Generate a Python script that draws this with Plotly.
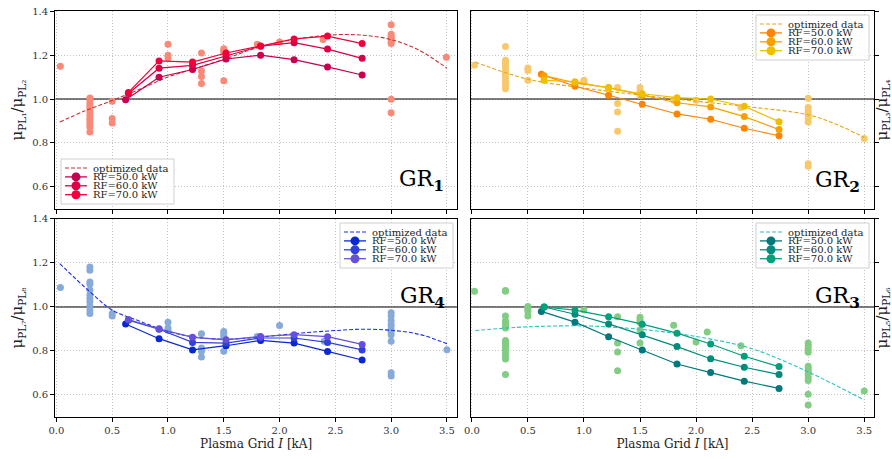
import plotly.graph_objects as go

# ---------------- data ----------------
rf_labels = ["RF=50.0 kW", "RF=60.0 kW", "RF=70.0 kW"]
fit_label = "optimized data"
x_rf50 = [0.62, 0.92, 1.22, 1.52, 1.83, 2.13, 2.43, 2.74]
x_rf6070 = [0.645, 0.92, 1.22, 1.52, 1.83, 2.13, 2.43, 2.74]
ref_level = 1.0

# GR1 (top-left)
gr1_rf50 = [0.997, 1.099, 1.134, 1.182, 1.199, 1.179, 1.146, 1.109]
gr1_rf60 = [1.025, 1.140, 1.153, 1.196, 1.240, 1.256, 1.227, 1.185]
gr1_rf70 = [1.030, 1.173, 1.168, 1.209, 1.241, 1.273, 1.286, 1.252]
gr1_sx = [0.035] + [0.3]*12 + [0.5]*3 + [1.0]*3 + [1.3]*4 + [1.5]*4 + [1.8, 2.0, 2.39] + [3.0]*9 + [3.495]
gr1_sy = [1.149,
          1.005, 0.994, 0.979, 0.967, 0.956, 0.941, 0.926, 0.911, 0.900, 0.888, 0.873, 0.850,
          0.990, 0.911, 0.891,
          1.249, 1.199, 1.188,
          1.209, 1.127, 1.102, 1.070,
          1.229, 1.221, 1.214, 1.083,
          1.249, 1.259, 1.270,
          1.338, 1.294, 1.285, 1.277, 1.270, 1.259, 1.252, 0.999, 0.937,
          1.190]
gr1_fx = [0.03, 0.25, 0.5, 0.75, 1.0, 1.25, 1.5, 1.75, 2.0, 2.25, 2.5, 2.75, 3.0, 3.25, 3.5]
gr1_fy = [0.895, 0.945, 0.993, 1.045, 1.100, 1.140, 1.180, 1.225, 1.258, 1.280, 1.292, 1.290, 1.270, 1.222, 1.140]

# GR2 (top-right)
gr2_rf50 = [1.112, 1.058, 1.017, 0.976, 0.932, 0.908, 0.867, 0.833]
gr2_rf60 = [1.106, 1.073, 1.052, 1.017, 0.983, 0.964, 0.920, 0.861]
gr2_rf70 = [1.085, 1.079, 1.050, 1.024, 1.006, 1.000, 0.967, 0.897]
gr2_sx = [0.024] + [0.3]*11 + [0.5]*3 + [1.0]*2 + [1.3]*4 + [1.5]*3 + [1.8, 2.0, 2.4] + [3.0]*9 + [3.5]
gr2_sy = [1.153,
          1.239, 1.176, 1.164, 1.150, 1.138, 1.123, 1.112, 1.097, 1.077, 1.062, 1.047,
          1.141, 1.130, 1.085,
          1.085, 1.077,
          1.052, 0.979, 0.941, 0.853,
          1.052, 1.036, 1.017,
          0.994, 0.994, 0.961,
          1.003, 0.961, 0.948, 0.936, 0.926, 0.911, 0.895, 0.706, 0.694,
          0.820]
gr2_fx = [0.03, 0.5, 1.0, 1.5, 2.0, 2.5, 3.0, 3.25, 3.5]
gr2_fy = [1.168, 1.090, 1.050, 1.018, 0.990, 0.963, 0.928, 0.885, 0.825]

# GR4 (bottom-left)
gr4_rf50 = [0.923, 0.856, 0.805, 0.824, 0.848, 0.836, 0.798, 0.759]
gr4_rf60 = [0.940, 0.899, 0.839, 0.836, 0.859, 0.859, 0.839, 0.805]
gr4_rf70 = [0.943, 0.901, 0.862, 0.851, 0.866, 0.874, 0.865, 0.830]
gr4_sx = [0.036] + [0.3]*11 + [0.5]*2 + [1.0]*3 + [1.3]*4 + [1.5]*4 + [1.8, 2.0, 2.4] + [3.0]*10 + [3.5]
gr4_sy = [1.089,
          1.182, 1.167, 1.114, 1.104, 1.077, 1.054, 1.039, 1.024, 1.005, 0.986, 0.971,
          0.971, 0.959,
          0.931, 0.904, 0.893,
          0.878, 0.814, 0.799, 0.773,
          0.889, 0.878, 0.866, 0.799,
          0.866, 0.916, 0.844,
          0.974, 0.959, 0.937, 0.919, 0.904, 0.889, 0.874, 0.844, 0.701, 0.686,
          0.806]
gr4_fx = [0.03, 0.3, 0.5, 0.75, 1.0, 1.25, 1.5, 1.75, 2.0, 2.25, 2.5, 2.75, 3.0, 3.25, 3.5]
gr4_fy = [1.197, 1.069, 0.986, 0.935, 0.889, 0.863, 0.854, 0.860, 0.872, 0.884, 0.893, 0.899, 0.894, 0.876, 0.833]

# GR3 (bottom-right)
gr3_rf50 = [0.980, 0.931, 0.865, 0.805, 0.741, 0.702, 0.663, 0.630]
gr3_rf60 = [1.000, 0.967, 0.923, 0.874, 0.820, 0.765, 0.726, 0.693]
gr3_rf70 = [1.000, 0.986, 0.956, 0.922, 0.881, 0.832, 0.776, 0.729]
gr3_sx = [0.024] + [0.3]*16 + [0.5]*4 + [1.0] + [1.3]*4 + [1.5]*5 + [1.8, 2.0, 2.1, 2.4] + [3.0]*12 + [3.5]
gr3_sy = [1.072,
          1.075, 1.072, 0.959, 0.937, 0.926, 0.914, 0.904, 0.848, 0.839, 0.829, 0.818, 0.806, 0.794, 0.779, 0.764, 0.693,
          1.002, 0.990, 0.979, 0.959,
          0.986,
          0.956, 0.836, 0.795, 0.710,
          0.953, 0.941, 0.929, 0.896, 0.836,
          0.917, 0.841, 0.886, 0.824,
          0.836, 0.824, 0.809, 0.794, 0.731, 0.719, 0.708, 0.693, 0.678, 0.666, 0.603, 0.555,
          0.618]
gr3_fx = [0.03, 0.3, 0.5, 1.0, 1.5, 2.0, 2.5, 3.0, 3.5]
gr3_fy = [0.893, 0.904, 0.910, 0.914, 0.899, 0.866, 0.810, 0.705, 0.577]

x_ticks = [0.0, 0.5, 1.0, 1.5, 2.0, 2.5, 3.0, 3.5]
y_ticks = [0.6, 0.8, 1.0, 1.2, 1.4]

FONT = "DejaVu Serif"
W, H = 892, 459
xr = [-0.01, 3.59]
yr = [0.5, 1.4]

panels = [
    dict(name="GR<sub><b>1</b></sub>", ax=("x", "y"),
         rf=[gr1_rf50, gr1_rf60, gr1_rf70], sx=gr1_sx, sy=gr1_sy, fx=gr1_fx, fy=gr1_fy,
         rfc=["#c8004e", "#dc0046", "#f0003a"], sc="#fa8a78", fc="#c83232",
         lab=(3.49, 0.63), leg=(61, 159)),
    dict(name="GR<sub><b>2</b></sub>", ax=("x2", "y2"),
         rf=[gr2_rf50, gr2_rf60, gr2_rf70], sx=gr2_sx, sy=gr2_sy, fx=gr2_fx, fy=gr2_fy,
         rfc=["#ff8400", "#f8a000", "#f0be00"], sc="#f7c86c", fc="#e0a820",
         lab=(3.48, 0.623), leg=(756, 15)),
    dict(name="GR<sub><b>4</b></sub>", ax=("x3", "y3"),
         rf=[gr4_rf50, gr4_rf60, gr4_rf70], sx=gr4_sx, sy=gr4_sy, fx=gr4_fx, fy=gr4_fy,
         rfc=["#0a28d2", "#3040dc", "#6450dc"], sc="#88aad8", fc="#1a2cf0",
         lab=(3.5, 1.045), leg=(340, 223)),
    dict(name="GR<sub><b>3</b></sub>", ax=("x4", "y4"),
         rf=[gr3_rf50, gr3_rf60, gr3_rf70], sx=gr3_sx, sy=gr3_sy, fx=gr3_fx, fy=gr3_fy,
         rfc=["#00787c", "#008c7c", "#00a07a"], sc="#82cc84", fc="#30c0c0",
         lab=(3.48, 1.045), leg=(756, 223)),
]

FIT_DASH = "4px,2px"

fig = go.Figure()


def px2paper(px, py):
    return px / W, 1 - py / H


def add_legend(fig, left, top, fit_color, rf_colors):
    """Matplotlib-style compact legend box (layout decoration)."""
    bw, bh = 113, 45
    x0, y1 = px2paper(left, top)
    x1, y0 = px2paper(left + bw, top + bh)
    fig.add_shape(type="rect", xref="paper", yref="paper", x0=x0, x1=x1, y0=y0, y1=y1,
                  fillcolor="rgba(255,255,255,0.85)", line=dict(color="#d0d0d0", width=1),
                  layer="above")
    labels = [fit_label] + rf_labels
    for i, lab in enumerate(labels):
        ry = top + 9 + 8.9 * i
        gx0, gy = px2paper(left + 4, ry)
        gx1, _ = px2paper(left + 26, ry)
        if i == 0:
            fig.add_shape(type="line", xref="paper", yref="paper", x0=gx0, x1=gx1, y0=gy, y1=gy,
                          line=dict(color=fit_color, width=1.2, dash=FIT_DASH), layer="above")
        else:
            col = rf_colors[i - 1]
            fig.add_shape(type="line", xref="paper", yref="paper", x0=gx0, x1=gx1, y0=gy, y1=gy,
                          line=dict(color=col, width=1.3), layer="above")
            cx0, cy0 = px2paper(left + 10.5, ry + 4.5)
            cx1, cy1 = px2paper(left + 19.5, ry - 4.5)
            fig.add_shape(type="circle", xref="paper", yref="paper", x0=cx0, x1=cx1, y0=cy0, y1=cy1,
                          fillcolor=col, line=dict(color=col, width=0), layer="above")
        tx, ty = px2paper(left + 31, ry)
        fig.add_annotation(x=tx, y=ty, xref="paper", yref="paper", text=lab, showarrow=False,
                           xanchor="left", yanchor="middle",
                           font=dict(family=FONT, size=10, color="#222"),
                           borderpad=0)


for p in panels:
    xa, ya = p["ax"]
    # horizontal reference line at 1.0 (beneath the data)
    fig.add_trace(go.Scatter(x=xr, y=[ref_level, ref_level], mode="lines", xaxis=xa, yaxis=ya,
                             line=dict(color="black", width=1.2), showlegend=False,
                             hoverinfo="skip"))
    fig.add_trace(go.Scatter(x=p["sx"], y=p["sy"], mode="markers", xaxis=xa, yaxis=ya,
                             marker=dict(color=p["sc"], size=7), showlegend=False))
    fig.add_trace(go.Scatter(x=p["fx"], y=p["fy"], mode="lines", xaxis=xa, yaxis=ya,
                             line=dict(color=p["fc"], width=1.1, dash=FIT_DASH, shape="spline"),
                             name=fit_label, showlegend=False))
    for i, (vals, col) in enumerate(zip(p["rf"], p["rfc"])):
        xs = x_rf50 if i == 0 else x_rf6070
        fig.add_trace(go.Scatter(x=xs, y=vals, mode="lines+markers", xaxis=xa, yaxis=ya,
                                 line=dict(color=col, width=1.2),
                                 marker=dict(color=col, size=7),
                                 name=rf_labels[i], showlegend=False))
    fig.add_annotation(x=p["lab"][0], y=p["lab"][1], xref=xa, yref=ya, text=p["name"],
                       showarrow=False, xanchor="right", yanchor="middle",
                       font=dict(family=FONT, size=22, color="black"))
    add_legend(fig, p["leg"][0], p["leg"][1], p["fc"], p["rfc"])

xdom_l = [0.062, 0.5123]
xdom_r = [0.5277, 0.9802]
ydom_t = [0.5447, 0.976]
ydom_b = [0.0915, 0.5229]

axis_common = dict(showline=True, linecolor="black", linewidth=1.3, mirror=True,
                   ticks="outside", ticklen=4, tickcolor="black", tickwidth=1,
                   showgrid=True, gridcolor="#c4c4c4", griddash="1px,2px", gridwidth=1,
                   zeroline=False, automargin=False,
                   tickfont=dict(family=FONT, size=10, color="#333"))

ytitle_font = dict(family=FONT, size=15, color="#222")
xtitle_font = dict(family=FONT, size=12, color="#222")

fig.update_layout(
    xaxis=dict(domain=xdom_l, anchor="y", range=xr, tickvals=x_ticks, showticklabels=False, **axis_common),
    yaxis=dict(domain=ydom_t, anchor="x", range=yr, tickvals=y_ticks, tickformat=".1f",
               title=dict(text="μ<sub>PL₁</sub>/μ<sub>PL₂</sub>", standoff=5, font=ytitle_font),
               **axis_common),
    xaxis2=dict(domain=xdom_r, anchor="y2", range=xr, tickvals=x_ticks, showticklabels=False, **axis_common),
    yaxis2=dict(domain=ydom_t, anchor="x2", range=yr, tickvals=y_ticks, side="right", showticklabels=False,
                title=dict(text="μ<sub>PL₃</sub>/μ<sub>PL₄</sub>", standoff=2, font=ytitle_font),
                **axis_common),
    xaxis3=dict(domain=xdom_l, anchor="y3", range=xr, tickvals=x_ticks, tickformat=".1f",
                title=dict(text="Plasma Grid <i>I</i> [kA]", standoff=4, font=xtitle_font),
                **axis_common),
    yaxis3=dict(domain=ydom_b, anchor="x3", range=yr, tickvals=y_ticks, tickformat=".1f",
                title=dict(text="μ<sub>PL₇</sub>/μ<sub>PL₈</sub>", standoff=5, font=ytitle_font),
                **axis_common),
    xaxis4=dict(domain=xdom_r, anchor="y4", range=xr, tickvals=x_ticks, tickformat=".1f",
                title=dict(text="Plasma Grid <i>I</i> [kA]", standoff=4, font=xtitle_font),
                **axis_common),
    yaxis4=dict(domain=ydom_b, anchor="x4", range=yr, tickvals=y_ticks, side="right", showticklabels=False,
                title=dict(text="μ<sub>PL₅</sub>/μ<sub>PL₆</sub>", standoff=2, font=ytitle_font),
                **axis_common),
)

fig.update_layout(width=W, height=H, margin=dict(l=0, r=0, t=0, b=0),
                  plot_bgcolor="white", paper_bgcolor="white", showlegend=False,
                  font=dict(family=FONT, color="#222"))

fig.write_html("out.html")
